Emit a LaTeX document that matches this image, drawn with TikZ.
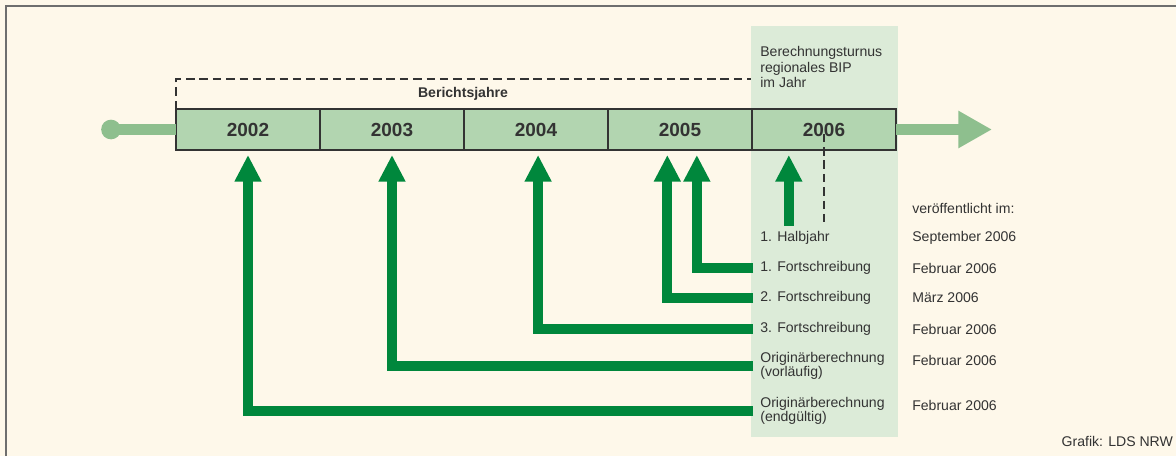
\documentclass[tikz,border=0pt]{standalone}
\usepackage{fontspec}
\setmainfont{Liberation Sans}
\usetikzlibrary{positioning,arrows.meta}
\definecolor{bgcream}{HTML}{FEF8EA}
\definecolor{framegray}{HTML}{6E6E6E}
\definecolor{colgreen}{HTML}{DCEBD8}
\definecolor{boxgreen}{HTML}{B2D5B0}
\definecolor{barlight}{HTML}{8EBF8E}
\definecolor{pubgreen}{HTML}{00873C}
\definecolor{textgray}{HTML}{333333}

\begin{document}
\begin{tikzpicture}[x=0.025cm,y=-0.025cm,
		yearbox/.style={draw=textgray, line width=1.1pt, fill=boxgreen, minimum width=102.4pt, minimum height=29.2pt, inner sep=0pt, outer sep=0pt, text=textgray, font=\fontsize{13.5}{14}\selectfont\bfseries},
		timebar/.style={draw=barlight, line width=8.5pt},
		pubarrow/.style={draw=pubgreen, line width=7pt, -{Triangle[width=18pt,length=19pt]}},
		guide/.style={draw=textgray, line width=0.8pt, dash pattern=on 6pt off 3.5pt},
		lab/.style={anchor=west, align=left, inner xsep=5pt, inner ysep=0pt, text=textgray, font=\fontsize{10}{10}\selectfont}]
	\fill[bgcream] (0,0) rectangle (1176,456);
	\useasboundingbox (0,0) rectangle (1176,456);
	\draw[framegray, line width=1.6pt] (6,456) -- (6,6) -- (1176,6);
	\fill[colgreen] (751,26) rectangle (898,437);
	%
	\node[yearbox] (y2002) at (248,129.5) {2002};
	\node[yearbox, right=0pt of y2002] (y2003) {2003};
	\node[yearbox, right=0pt of y2003] (y2004) {2004};
	\node[yearbox, right=0pt of y2004] (y2005) {2005};
	\node[yearbox, right=0pt of y2005] (y2006) {2006};
	%
	\coordinate (start) at (111,129.5);
	\coordinate (ende) at (992,129.5);
	\fill[barlight] (start) circle[radius=7pt];
	\draw[timebar] (start) -- (y2002.west);
	\draw[timebar, -{Triangle[width=25pt,length=24pt]}] (y2006.east) -- (ende);
	%
	\coordinate (brk) at (751,79);
	\draw[guide] (y2002.north west) |- (brk);
	\node[text=textgray, font=\fontsize{10}{10}\selectfont\bfseries] (bj) at (463,94) {Berichtsjahre};
	\node[lab, font=\fontsize{10}{11}\selectfont] (turnus) at (753,67) {Berechnungsturnus\\regionales BIP\\im Jahr};
	%
	\node[lab] (veroeff) at (905,208) {veröffentlicht im:};
	\node[lab] (hj) at (753,238) {1. Halbjahr};
	\node[lab] (fs1) at (753,268) {1. Fortschreibung};
	\node[lab] (fs2) at (753,298) {2. Fortschreibung};
	\node[lab] (fs3) at (753,329) {3. Fortschreibung};
	\node[lab] (orv) at (753,366) {Originärberechnung\\(vorläufig)};
	\node[lab] (ore) at (753,411) {Originärberechnung\\(endgültig)};
	\node[lab] (d1) at (905,238) {September 2006};
	\node[lab] (d2) at (905,268) {Februar 2006};
	\node[lab] (d3) at (905,298) {März 2006};
	\node[lab] (d4) at (905,329) {Februar 2006};
	\node[lab] (d5) at ([yshift=3.6pt]orv.west -| d4.west) {Februar 2006};
	\node[lab] (d6) at ([yshift=3.6pt]ore.west -| d4.west) {Februar 2006};
	\node[lab, anchor=east, inner xsep=2pt] (quelle) at (1176,441) {Grafik: LDS NRW};
	%
	\coordinate (tip6) at ([xshift=-25pt,yshift=-3.5pt]y2006.south);
	\draw[pubarrow] ([yshift=4pt]hj.north -| tip6) -- (tip6);
	\draw[guide] ([yshift=-3pt]y2006.center) -- ([yshift=4pt]hj.north -| y2006.center);
	\draw[pubarrow] (fs1.west) -| ([xshift=12pt,yshift=-3.5pt]y2005.south);
	\draw[pubarrow] (fs2.west) -| ([xshift=-9pt,yshift=-3.5pt]y2005.south);
	\draw[pubarrow] (fs3.west) -| ([xshift=1.5pt,yshift=-3.5pt]y2004.south);
	\draw[pubarrow] (orv.west) -| ([yshift=-3.5pt]y2003.south);
	\draw[pubarrow] (ore.west) -| ([yshift=-3.5pt]y2002.south);
\end{tikzpicture}
\end{document}
